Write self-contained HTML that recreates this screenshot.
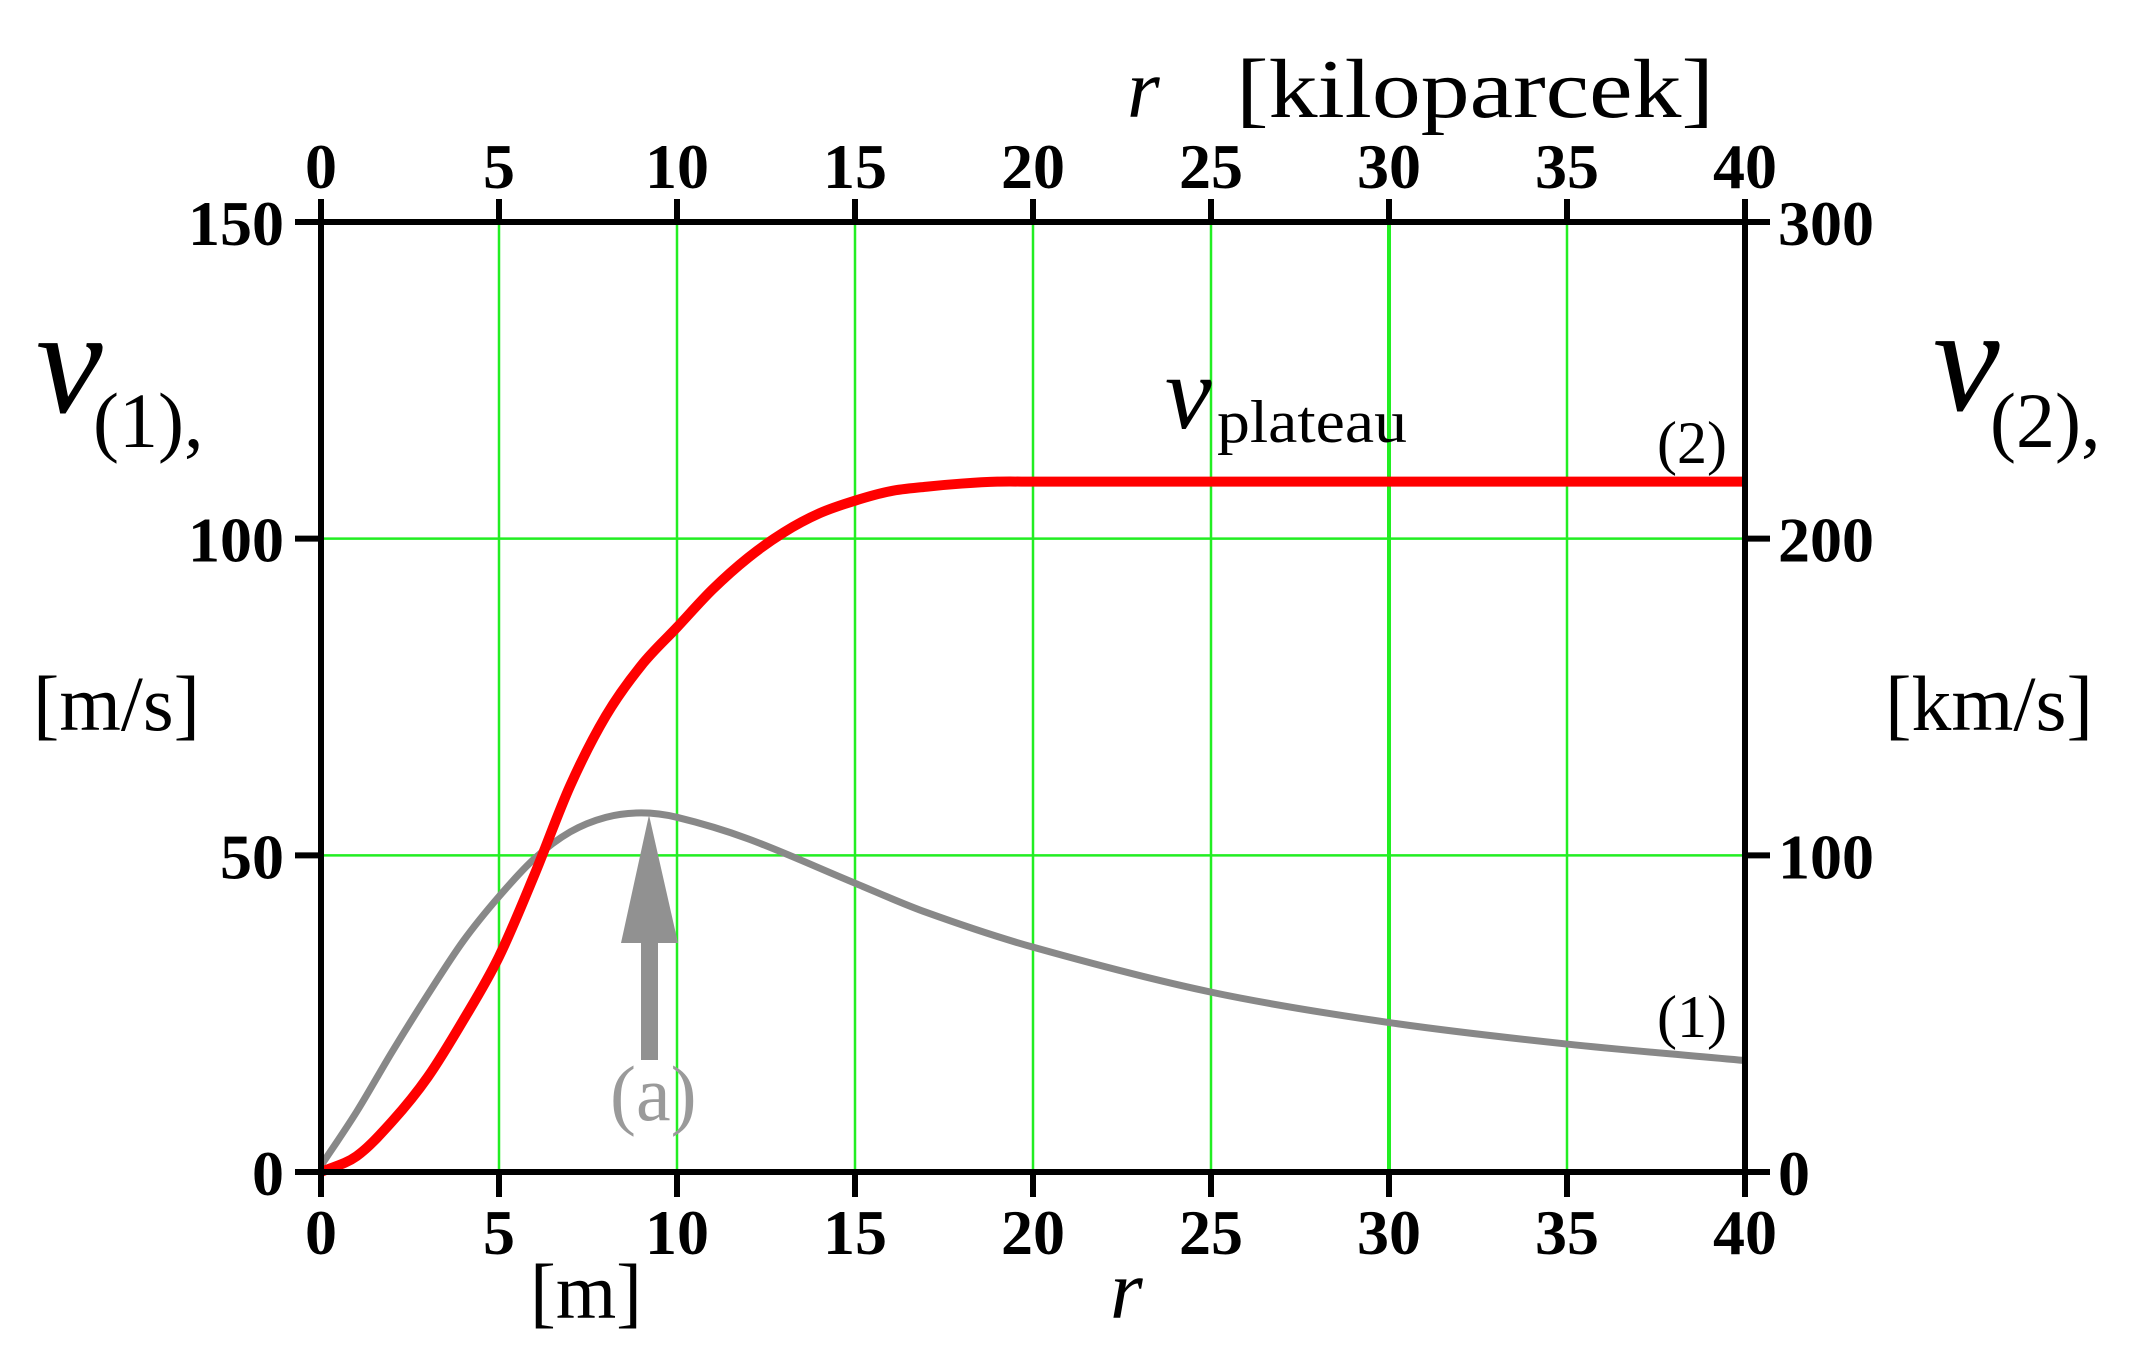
<!DOCTYPE html>
<html><head><meta charset="utf-8"><style>
html,body{margin:0;padding:0;background:#fff;}
svg{display:block;}
text{font-family:"Liberation Serif",serif;}
</style></head><body>
<svg id="chart" width="2132" height="1366" viewBox="0 0 2132 1366">
<g id="grid"></g>
<g id="series"></g>
<g id="axes"></g>
<g id="ticks"></g>
<text x="1127" y="117" font-size="84" font-style="italic">r</text>
<text x="1236" y="117" font-size="84" textLength="478" lengthAdjust="spacingAndGlyphs">[kiloparcek]</text>
<text x="36" y="412" font-size="150" font-style="italic">v</text>
<text x="93" y="447" font-size="78">(1),</text>
<text x="33" y="730" font-size="78" textLength="167" lengthAdjust="spacingAndGlyphs">[m/s]</text>
<text x="1933" y="410" font-size="150" font-style="italic">v</text>
<text x="1990" y="447" font-size="78">(2),</text>
<text x="1885" y="730" font-size="78" textLength="208" lengthAdjust="spacingAndGlyphs">[km/s]</text>
<text x="1165" y="428" font-size="105" font-style="italic">v</text>
<text x="1217" y="442" font-size="60" textLength="190" lengthAdjust="spacingAndGlyphs">plateau</text>
<text x="1657" y="463" font-size="60">(2)</text>
<text x="1657" y="1037" font-size="60">(1)</text>
<polygon points="649,815 621,943 641,943 641,1060 658,1060 658,943 678,943" fill="#919191"/>
<text x="610" y="1120" font-size="78" fill="#9a9a9a">(a)</text>
<text x="530" y="1318" font-size="78" textLength="112" lengthAdjust="spacingAndGlyphs">[m]</text>
<text x="1110" y="1318" font-size="84" font-style="italic">r</text>
</svg>
<script>
const xTicks = [0,5,10,15,20,25,30,35,40];
const yLeftTicks = [0,50,100,150];
const yRightTicks = [0,100,200,300];
const rGray = [0,1,2,3,4,5,6,7,8,9,10,12,15,17,20,25,30,35,40];
const vGray = [1,9.5,19,28,36.5,43.5,49.5,53.7,56,56.7,56,52.6,45.6,41,35.5,28.4,23.6,20.2,17.6];
const rRed = [0,1,2,3,4,5,6,7,8,9,10,11,12,13,14,15,16,17,18,19,20,25,30,35,40];
const vRed = [0,2.5,8,15,24,34,47,61,72,80,86,92,97,101,104,106,107.5,108.2,108.7,109,109,109,109,109,109];

const X0=321,X1=1745,Y0=1172,Y1=222;
const sx = r => X0 + (r/40)*(X1-X0);
const sy = v => Y0 - (v/150)*(Y0-Y1);
const syR = v => Y0 - (v/300)*(Y0-Y1);
const NS='http://www.w3.org/2000/svg';
function mk(tag, attrs, parent){const e=document.createElementNS(NS,tag);for(const k in attrs)e.setAttribute(k,attrs[k]);parent.appendChild(e);return e;}
function smooth(pts){
  let d='M'+pts[0][0]+','+pts[0][1];
  for(let i=0;i<pts.length-1;i++){
    const p0=pts[Math.max(0,i-1)],p1=pts[i],p2=pts[i+1],p3=pts[Math.min(pts.length-1,i+2)];
    const h=p2[0]-p1[0];
    const s1=(p2[1]-p0[1])/((p2[0]-p0[0])||1), s2=(p3[1]-p1[1])/((p3[0]-p1[0])||1);
    d+=' C'+(p1[0]+h/3)+','+(p1[1]+s1*h/3)+' '+(p2[0]-h/3)+','+(p2[1]-s2*h/3)+' '+p2[0]+','+p2[1];
  }
  return d;
}
const grid=document.getElementById('grid'), series=document.getElementById('series'), axes=document.getElementById('axes'), ticks=document.getElementById('ticks');

xTicks.forEach(t=>{
  if(t>0&&t<40){
    const l=mk('line',{x1:sx(t),x2:sx(t),y1:Y1,y2:Y0,stroke:'#22ee22','stroke-width':t===30?4:2.5},grid);
    
    
  }
  const tt=mk('line',{x1:sx(t),x2:sx(t),y1:Y1-23,y2:Y1+3,stroke:'#000','stroke-width':6},ticks);
  
  
  const tb=mk('line',{x1:sx(t),x2:sx(t),y1:Y0-3,y2:Y0+25,stroke:'#000','stroke-width':6},ticks);
  
  
  const a=mk('text',{x:sx(t),y:188,'font-size':64,'font-weight':'bold','text-anchor':'middle'},ticks);
  a.textContent=t;
  
  
  const b=mk('text',{x:sx(t),y:1254,'font-size':64,'font-weight':'bold','text-anchor':'middle'},ticks);
  b.textContent=t;
  
  
});
yLeftTicks.forEach(t=>{
  if(t>0&&t<150){
    const l=mk('line',{x1:X0,x2:X1,y1:sy(t),y2:sy(t),stroke:'#22ee22','stroke-width':2.5},grid);
    
    
  }
  const tk=mk('line',{x1:X0-26,x2:X0+3,y1:sy(t),y2:sy(t),stroke:'#000','stroke-width':6},ticks);
  
  
  const lb=mk('text',{x:284,y:sy(t)+23,'font-size':64,'font-weight':'bold','text-anchor':'end'},ticks);
  lb.textContent=t;
  
  
});
yRightTicks.forEach(t=>{
  const tk=mk('line',{x1:X1-3,x2:X1+25,y1:syR(t),y2:syR(t),stroke:'#000','stroke-width':6},ticks);
  
  
  const lb=mk('text',{x:1778,y:syR(t)+23,'font-size':64,'font-weight':'bold','text-anchor':'start'},ticks);
  lb.textContent=t;
  
  
});

const gp=mk('path',{d:smooth(rGray.map((r,i)=>[sx(r),sy(vGray[i])])),fill:'none',stroke:'#888','stroke-width':7,'stroke-linejoin':'round'},series);


const rp=mk('path',{d:smooth(rRed.map((r,i)=>[sx(r),sy(vRed[i])])),fill:'none',stroke:'#ff0000','stroke-width':10,'stroke-linejoin':'round'},series);



const frame=mk('rect',{x:X0,y:Y1,width:X1-X0,height:Y0-Y1,fill:'none',stroke:'#000','stroke-width':6},axes);


</script>
</body></html>
